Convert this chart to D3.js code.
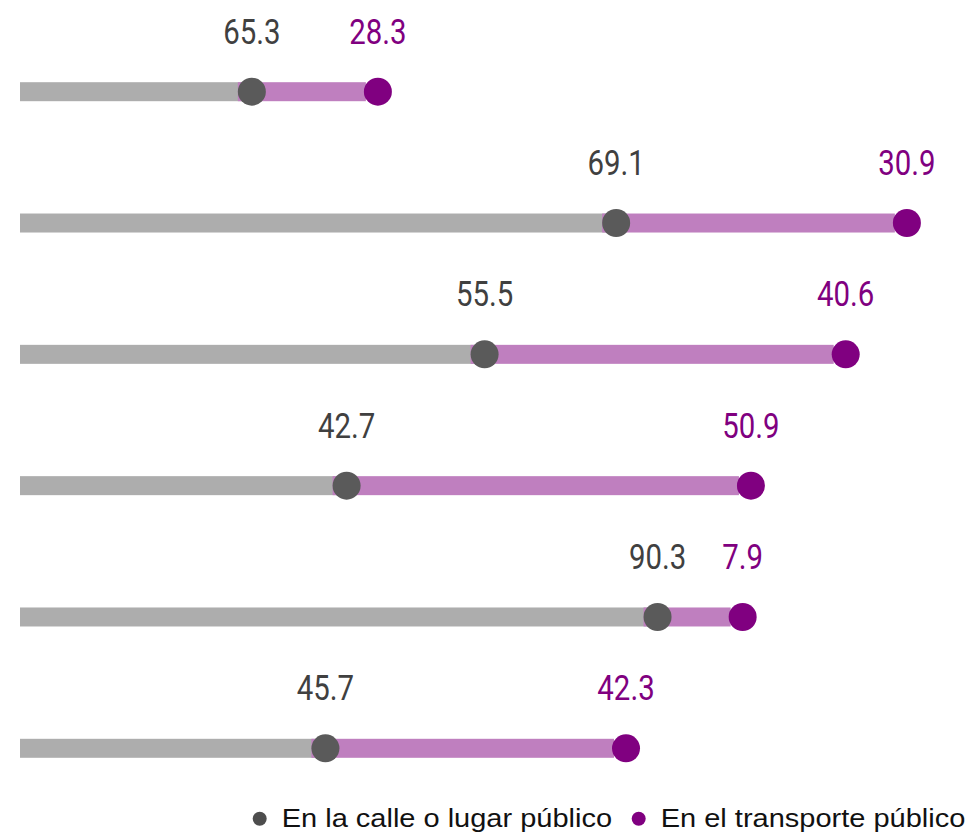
<!DOCTYPE html>
<html>
<head>
<meta charset="utf-8">
<script src="https://d3js.org/d3.v7.min.js"></script>
<style>
  body { margin: 0; background: #fff; }
</style>
</head>
<body>
<div id="container"></div>
<script>
  // svg dimensions
  const width = 968;
  const height = 833;

  // rows (no category names shown in the chart)
  const rows = ["r1", "r2", "r3", "r4", "r5", "r6"];

  // labels shown above the dots (%)
  const callePct = [65.3, 69.1, 55.5, 42.7, 90.3, 45.7];
  const transportePct = [28.3, 30.9, 40.6, 50.9, 7.9, 42.3];

  // where each dot sits on the chart's own (hidden) axis
  const calleEnd = [25.2, 64.8, 50.5, 35.5, 69.3, 33.2];
  const transporteEnd = [38.9, 96.4, 89.75, 79.45, 78.55, 65.87];

  const seriesNames = ["En la calle o lugar público", "En el transporte público"];

  // colours
  const grayBar = "#adadad";
  const grayDot = "#5a5a5a";
  const grayText = "#404040";
  const purpleBar = "#bf7fbf";
  const purpleDot = "#800080";

  const dotR = 14;
  const barH = 19;

  const x = d3.scaleLinear().domain([0, 100]).range([20, 940]);
  const y = d3.scalePoint().domain(rows).range([91.7, 748.3]);

  const data = rows.map((r, i) => ({
    row: r,
    cPct: callePct[i],
    tPct: transportePct[i],
    cEnd: calleEnd[i],
    tEnd: transporteEnd[i]
  }));

  const svg = d3.select("#container").append("svg")
    .attr("width", width)
    .attr("height", height);

  // gray bars
  svg.selectAll(".grayBar")
    .data(data)
    .join("rect")
    .attr("class", "grayBar")
    .attr("x", x(0))
    .attr("y", d => y(d.row) - barH / 2)
    .attr("width", d => x(d.cEnd) - x(0))
    .attr("height", barH)
    .attr("fill", grayBar);

  // purple bars
  svg.selectAll(".purpleBar")
    .data(data)
    .join("rect")
    .attr("class", "purpleBar")
    .attr("x", d => x(d.cEnd) - dotR)
    .attr("y", d => y(d.row) - barH / 2)
    .attr("width", d => x(d.tEnd) - x(d.cEnd) + 2)
    .attr("height", barH)
    .attr("fill", purpleBar);

  // dots
  svg.selectAll(".grayDot")
    .data(data)
    .join("circle")
    .attr("class", "grayDot")
    .attr("cx", d => x(d.cEnd))
    .attr("cy", d => y(d.row))
    .attr("r", dotR)
    .attr("fill", grayDot);

  svg.selectAll(".purpleDot")
    .data(data)
    .join("circle")
    .attr("class", "purpleDot")
    .attr("cx", d => x(d.tEnd))
    .attr("cy", d => y(d.row))
    .attr("r", dotR)
    .attr("fill", purpleDot);

  // value labels, squeezed to look like a condensed face
  const labelFont = "Roboto, 'DejaVu Sans Condensed', sans-serif";

  svg.selectAll(".grayLabel")
    .data(data)
    .join("text")
    .attr("class", "grayLabel")
    .attr("transform", d => "translate(" + x(d.cEnd) + "," + (y(d.row) - 48) + ") scale(0.84,1)")
    .attr("text-anchor", "middle")
    .attr("font-family", labelFont)
    .attr("font-size", 35)
    .attr("fill", grayText)
    .text(d => d.cPct.toFixed(1));

  svg.selectAll(".purpleLabel")
    .data(data)
    .join("text")
    .attr("class", "purpleLabel")
    .attr("transform", d => "translate(" + x(d.tEnd) + "," + (y(d.row) - 48) + ") scale(0.84,1)")
    .attr("text-anchor", "middle")
    .attr("font-family", labelFont)
    .attr("font-size", 35)
    .attr("fill", purpleDot)
    .text(d => d.tPct.toFixed(1));

  // legend
  const legendItems = [
    { name: seriesNames[0], color: "#4d4d4d", cx: 259.7, tx: 281.7 },
    { name: seriesNames[1], color: purpleDot, cx: 638.7, tx: 660.7 }
  ];

  const legend = svg.append("g");

  legend.selectAll("circle")
    .data(legendItems)
    .join("circle")
    .attr("cx", d => d.cx)
    .attr("cy", 818.7)
    .attr("r", 7)
    .attr("fill", d => d.color);

  legend.selectAll("text")
    .data(legendItems)
    .join("text")
    .attr("transform", d => "translate(" + d.tx + ",827) scale(1.16,1)")
    .attr("font-family", "'Liberation Sans', Arial, sans-serif")
    .attr("font-size", 25)
    .attr("fill", "#111")
    .text(d => d.name);
</script>
</body>
</html>
